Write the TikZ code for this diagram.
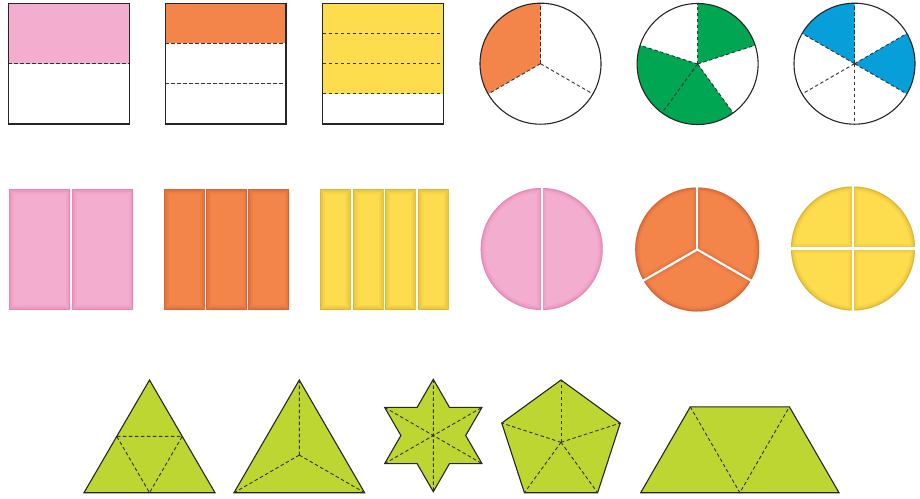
\documentclass[tikz,border=0pt]{standalone}
\usepackage{xcolor}
\usepackage{tikz}
\usetikzlibrary{positioning, calc}

\definecolor{fpink}{HTML}{F3ADCE}
\definecolor{fpinkdark}{HTML}{DC72A8}
\definecolor{forange}{HTML}{F3844A}
\definecolor{forangedark}{HTML}{C0532A}
\definecolor{fyellow}{HTML}{FDDC4D}
\definecolor{fyellowdark}{HTML}{C49E2C}
\definecolor{fgreen}{HTML}{00A651}
\definecolor{fblue}{HTML}{079FDA}
\definecolor{flime}{HTML}{BDD631}

\newcommand\softpiece[3]{%
  \fill[#1] #3;
  \begin{scope}
    \clip #3;
    \draw[#2, line width=9pt, opacity=0.12] #3;
    \draw[#2, line width=5pt, opacity=0.2] #3;
    \draw[#2, line width=2pt, opacity=0.45] #3;
  \end{scope}}

\begin{document}
\begin{tikzpicture}[
    x=1pt, y=-1pt,
    outline/.style={draw=black!85, line width=1.1pt},
    cut/.style={draw=black!80, line width=0.9pt, dash pattern=on 3.5pt off 2.5pt},
    gap/.style={draw=white, line width=2.2pt}
]
\useasboundingbox (0,0) rectangle (920,498);

% squares
\fill[fpink] (8.3,3.3) rectangle (129.3,63.5);
\draw[cut] (8.3,63.5) -- (129.3,63.5);
\draw[outline] (8.3,3.3) rectangle (129.3,124);

\fill[forange] (165.3,3.3) rectangle (286,43.3);
\draw[cut] (165.3,43.3) -- (286,43.3);
\draw[cut] (165.3,83.5) -- (286,83.5);
\draw[outline] (165.3,3.3) rectangle (286,124);

\fill[fyellow] (322.7,3.3) rectangle (443.3,93.7);
\draw[cut] (322.7,33.3) -- (443.3,33.3);
\draw[cut] (322.7,63.5) -- (443.3,63.5);
\draw[cut] (322.7,93.7) -- (443.3,93.7);
\draw[outline] (322.7,3.3) rectangle (443.3,124);

% circles
\begin{scope}[shift={(540.5,63.7)}, yscale=-1]
\coordinate (c1) at (0,0);
\fill[forange] (c1) -- (90:60.5) arc[start angle=90, end angle=210, radius=60.5] -- cycle;
\foreach \a in {90,210,330} \draw[cut] (c1) -- (\a:60.5);
\draw[outline] (c1) circle[radius=60.5];
\end{scope}

\begin{scope}[shift={(697.6,64)}, yscale=-1]
\coordinate (c2) at (0,0);
\fill[fgreen] (c2) -- (18:60.5) arc[start angle=18, end angle=90, radius=60.5] -- cycle;
\fill[fgreen] (c2) -- (162:60.5) arc[start angle=162, end angle=306, radius=60.5] -- cycle;
\foreach \a in {18,90,162,234,306} \draw[cut] (c2) -- (\a:60.5);
\draw[outline] (c2) circle[radius=60.5];
\end{scope}

\begin{scope}[shift={(854.5,63.7)}, yscale=-1]
\coordinate (c3) at (0,0);
\fill[fblue] (c3) -- (90:60.5) arc[start angle=90, end angle=150, radius=60.5] -- cycle;
\fill[fblue] (c3) -- (-30:60.5) arc[start angle=-30, end angle=30, radius=60.5] -- cycle;
\foreach \a in {30,90,150,210,270,330} \draw[cut] (c3) -- (\a:60.5);
\draw[outline] (c3) circle[radius=60.5];
\end{scope}

% strips
\softpiece{fpink}{fpinkdark}{(9,189) rectangle (70,309.7)}
\softpiece{fpink}{fpinkdark}{(72,189) rectangle (133,309.7)}

\softpiece{forange}{forangedark}{(164,189) rectangle (204.7,309.7)}
\softpiece{forange}{forangedark}{(206,189) rectangle (247,309.7)}
\softpiece{forange}{forangedark}{(248,189) rectangle (289,309.7)}

\softpiece{fyellow}{fyellowdark}{(320,189) rectangle (350.7,309.7)}
\softpiece{fyellow}{fyellowdark}{(353,189) rectangle (383.7,309.7)}
\softpiece{fyellow}{fyellowdark}{(385,189) rectangle (415.7,309.7)}
\softpiece{fyellow}{fyellowdark}{(418,189) rectangle (448.7,309.7)}

% pies
\begin{scope}[shift={(541.7,249)}, yscale=-1]
\coordinate (d1) at (0,0);
\softpiece{fpink}{fpinkdark}{(d1) -- (90:61) arc[start angle=90, end angle=270, radius=61] -- cycle}
\softpiece{fpink}{fpinkdark}{(d1) -- (-90:61) arc[start angle=-90, end angle=90, radius=61] -- cycle}
\draw[gap] (90:62) -- (270:62);
\end{scope}

\begin{scope}[shift={(697.2,249.5)}, yscale=-1]
\coordinate (d2) at (0,0);
\softpiece{forange}{forangedark}{(d2) -- (90:62) arc[start angle=90, end angle=210, radius=62] -- cycle}
\softpiece{forange}{forangedark}{(d2) -- (210:62) arc[start angle=210, end angle=330, radius=62] -- cycle}
\softpiece{forange}{forangedark}{(d2) -- (-30:62) arc[start angle=-30, end angle=90, radius=62] -- cycle}
\foreach \a in {90,210,330} \draw[gap] (d2) -- (\a:63);
\end{scope}

\begin{scope}[shift={(853,248.5)}, yscale=-1]
\coordinate (d3) at (0,0);
\foreach \a in {0,90,180,270}
  \softpiece{fyellow}{fyellowdark}{(d3) -- (\a:62) arc[start angle=\a, delta angle=90, radius=62] -- cycle}
\draw[gap] (0:63) -- (180:63);
\draw[gap] (90:63) -- (270:63);
\end{scope}

% triangles
\coordinate (t1a) at (149.5,380);
\coordinate (t1b) at (84,492.7);
\coordinate (t1c) at (215,492.7);
\filldraw[fill=flime, outline] (t1a) -- (t1b) -- (t1c) -- cycle;
\draw[cut] ($(t1a)!0.5!(t1b)$) -- ($(t1a)!0.5!(t1c)$) -- ($(t1b)!0.5!(t1c)$) -- cycle;

\coordinate (t2a) at (299.3,380);
\coordinate (t2b) at (234,492.7);
\coordinate (t2c) at (364.6,492.7);
\coordinate (t2o) at (299.3,455.1);
\filldraw[fill=flime, outline] (t2a) -- (t2b) -- (t2c) -- cycle;
\draw[cut] (t2o) -- (t2a) (t2o) -- (t2b) (t2o) -- (t2c);

% star
\begin{scope}[shift={(433.3,435.5)}, yscale=-1]
\foreach \i in {0,...,5} \coordinate (s\i) at (90+60*\i:56.2);
\filldraw[fill=flime, outline] (s0) -- (120:32.4) -- (s1) -- (180:32.4) -- (s2) -- (240:32.4)
  -- (s3) -- (300:32.4) -- (s4) -- (0:32.4) -- (s5) -- (60:32.4) -- cycle;
\draw[cut] (s0) -- (s3) (s1) -- (s4) (s2) -- (s5);
\end{scope}

% pentagon
\begin{scope}[shift={(561,442.3)}, yscale=-1]
\coordinate (pc) at (0,0);
\foreach \i in {0,...,4} \coordinate (p\i) at (90+72*\i:62.3);
\filldraw[fill=flime, outline] (p0) -- (p1) -- (p2) -- (p3) -- (p4) -- cycle;
\foreach \i in {0,...,4} \draw[cut] (pc) -- (p\i);
\end{scope}

% trapezoid
\coordinate (z1) at (640.7,492.7);
\coordinate (z2) at (839,492.7);
\coordinate (z3) at (789.4,406.8);
\coordinate (z4) at (690.3,406.8);
\coordinate (z5) at (739.85,492.7);
\filldraw[fill=flime, outline] (z1) -- (z2) -- (z3) -- (z4) -- cycle;
\draw[cut] (z4) -- (z5) -- (z3);
\end{tikzpicture}
\end{document}
